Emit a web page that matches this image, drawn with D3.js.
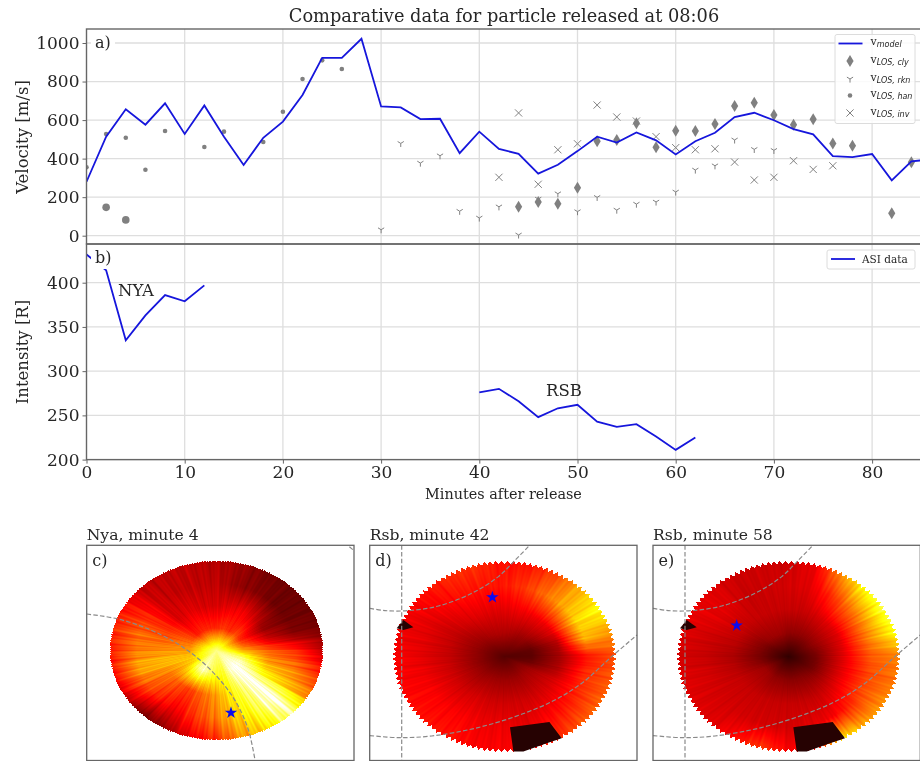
<!DOCTYPE html>
<html><head><meta charset="utf-8">
<script src="https://cdn.jsdelivr.net/npm/d3@7"></script>
<style>
html,body{margin:0;padding:0;background:#fff;overflow:hidden;width:920px;height:761px}
#wrap{position:relative;width:920px;height:761px;overflow:hidden}
canvas,svg{position:absolute;left:0;top:0}
canvas{filter:blur(0.6px)}
text{font-family:"DejaVu Serif",serif;fill:#262626}
</style></head><body><div id="wrap"><canvas id="heat" width="920" height="761"></canvas><svg id="chart" width="920" height="761"></svg></div>
<script>
// ---------- panel a ----------
const modelMinutes = [0,2,4,6,8,10,12,14,16,18,20,22,24,26,28,30,32,34,36,38,40,42,44,46,48,50,52,54,56,58,60,62,64,66,68,70,72,74,76,78,80,82,84,86];
const modelVelocity = [280,514,656,576,687,528,676,513,367,508,592,730,923,923,1022,671,666,605,607,428,540,450,425,322,368,439,514,483,536,495,422,490,534,616,638,599,553,526,413,408,424,287,386,396];
const hanMinutes = [0,2,4,6,8,12,14,18,20,22,24,26];
const hanVelocity = [355,528,508,342,543,460,540,486,643,813,910,865];
const hanBigMinutes = [2,4];
const hanBigVelocity = [147,82];
const rknMinutes = [30,32,34,36,38,40,42,44,46,48,50,52,54,56,58,60,62,64,66,68,70];
const rknVelocity = [31,479,377,415,127,92,150,4,190,218,125,199,133,164,175,227,341,363,497,448,443];
const clyMinutes = [44,46,48,50,52,54,56,58,60,62,64,66,68,70,72,74,76,78,82,84];
const clyVelocity = [150,175,166,249,490,497,583,459,545,543,580,673,690,626,576,604,479,467,116,381];
const invMinutes = [42,44,46,48,50,52,54,56,58,60,62,64,66,68,70,72,74,76];
const invVelocity = [303,637,267,446,477,678,616,595,514,457,446,451,382,289,303,389,344,363];
// ---------- panel b ----------
const nyaMinutes = [0,2,4,6,8,10,12];
const nyaIntensity = [432,414,335,363,386,379,397];
const rsbMinutes = [40,42,44,46,48,50,52,54,56,58,60,62];
const rsbIntensity = [276,280,266,248,258,262,243,237,240,226,211,225];
// ---------- ticks and text ----------
const xTicks = [0,10,20,30,40,50,60,70,80];
const velocityTicks = [0,200,400,600,800,1000];
const intensityTicks = [200,250,300,350,400];
const titleText = "Comparative data for particle released at 08:06";
// ---------- all-sky images: intensity by sector (15 deg steps, clockwise from east) and radius ----------
const ringRadii = [0,.25,.5,.75,1];
const nyaSky = [[.88,.62,.5,.42,.28],[.88,.82,.6,.55,.42],[.88,.95,.75,.65,.55],[.88,1,1,1,.9],[.88,.95,.85,.8,.7],[.88,.78,.72,.68,.6],[.88,.78,.6,.55,.42],[.88,.85,.52,.45,.33],[.88,.95,.45,.35,.22],[.88,.85,.5,.4,.18],[.88,.68,.55,.5,.3],[.88,.66,.65,.62,.38],[.88,.6,.58,.55,.4],[.88,.55,.5,.52,.42],[.88,.48,.42,.42,.38],[.88,.4,.31,.3,.28],[.88,.42,.33,.28,.28],[.88,.42,.31,.28,.28],[.88,.42,.31,.28,.26],[.88,.45,.33,.22,.23],[.88,.42,.35,.2,.18],[.88,.48,.3,.17,.17],[.88,.42,.22,.17,.17],[.88,.5,.3,.2,.18]];
const rsb42Sky = [[.16,.17,.28,.45,.55],[.16,.2,.3,.5,.58],[.16,.27,.36,.48,.6],[.16,.28,.36,.45,.58],[.16,.27,.35,.42,.5],[.16,.27,.35,.38,.42],[.16,.27,.35,.4,.42],[.16,.27,.35,.4,.42],[.16,.27,.36,.42,.45],[.16,.26,.35,.42,.45],[.16,.26,.35,.42,.44],[.16,.25,.34,.4,.42],[.16,.25,.33,.38,.42],[.16,.25,.33,.38,.4],[.16,.26,.33,.38,.42],[.16,.27,.36,.42,.45],[.16,.29,.38,.45,.5],[.16,.3,.38,.45,.5],[.16,.3,.38,.46,.44],[.16,.29,.4,.52,.45],[.16,.27,.4,.62,.55],[.16,.26,.4,.72,.74],[.16,.22,.38,.8,.88],[.16,.18,.3,.74,.68]];
const rsb58Sky = [[.1,.2,.36,.55,.62],[.1,.2,.36,.52,.6],[.1,.2,.36,.52,.65],[.1,.22,.34,.45,.68],[.1,.23,.32,.38,.8],[.1,.23,.32,.36,.42],[.1,.23,.32,.34,.4],[.1,.24,.32,.34,.5],[.1,.24,.32,.34,.42],[.1,.26,.32,.34,.36],[.1,.26,.32,.34,.36],[.1,.22,.3,.34,.36],[.1,.2,.28,.32,.34],[.1,.21,.3,.33,.36],[.1,.22,.32,.36,.38],[.1,.25,.32,.36,.36],[.1,.26,.32,.32,.33],[.1,.26,.32,.33,.33],[.1,.24,.32,.34,.33],[.1,.24,.32,.36,.38],[.1,.24,.34,.46,.66],[.1,.24,.36,.58,.85],[.1,.24,.36,.62,.9],[.1,.22,.36,.62,.85]];
const nyaArc = [[0,68.7],[30,73.4],[60,83],[90,98],[113.3,114.7],[133.3,134.7],[150,158],[161.7,184.7],[168.3,214.7]];
const nyaCornerArc = [[262.7,1.4],[267.3,5.4]];
const rsbArcUpper = [[0,63],[15.3,65.3],[38.7,65.3],[68.7,60.7],[102,48],[128.7,31.3],[145.3,15],[159.3,.7]];
const rsbArcLower = [[0,190.3],[28.7,192.3],[62,190.7],[105.3,183],[145.3,171.3],[182,156.3],[212,138],[242,111.3],[267.3,89.7]];
const rsbMeridian = [[32,0],[32,215]];
const rsbPatchBottom = [[140.3,182],[179.7,176.7],[192,193],[177,198],[153.7,206.3],[143.7,206.3]];
const rsbPatchLeft = [[27,83],[33.7,74.7],[43.7,82],[33.7,84.7]];

const gray = "#808080", blue = "#1616dc", gridColor = "#dedede", spine = "#666";
const svg = d3.select("#chart");
const x = d3.scaleLinear().domain([0,85]).range([86.5,921.2]);
const yA = d3.scaleLinear().domain([0,1000]).range([235.7,43]);
const yB = d3.scaleLinear().domain([200,400]).range([459.6,282.7]);
const A = {top:29,bottom:244}, B = {top:244,bottom:459.6};
const defs = svg.append("defs");
[["clipA",A],["clipB",B]].forEach(([id,p])=>{
  defs.append("clipPath").attr("id",id).append("rect").attr("x",x.range()[0]).attr("y",p.top).attr("width",x.range()[1]-x.range()[0]).attr("height",p.bottom-p.top);
});

function grid(p,yS,ticks){
  const g = svg.append("g");
  g.selectAll("line.v").data(xTicks.slice(1)).join("line").attr("x1",x).attr("x2",x).attr("y1",p.top).attr("y2",p.bottom).attr("stroke",gridColor).attr("stroke-width",1.3);
  g.selectAll("line.h").data(ticks).join("line").attr("x1",x(0)).attr("x2",x.range()[1]).attr("y1",yS).attr("y2",yS).attr("stroke",gridColor).attr("stroke-width",1.3);
}
grid(A,yA,velocityTicks);
grid(B,yB,intensityTicks);

const paths = {
  tri:"M0,0L0,3.6M0,0L-3.1,-1.9M0,0L3.1,-1.9",
  cross:"M-3.6,-3.6L3.6,3.6M-3.6,3.6L3.6,-3.6",
  diamond:"M0,-6L3.6,0L0,6L-3.6,0Z"
};
function drawLine(g,xs,ys,yS,w){
  const l = d3.line().x((d,i)=>x(xs[i])).y((d,i)=>yS(ys[i]));
  g.append("path").attr("d",l(xs)).attr("fill","none").attr("stroke",blue).attr("stroke-width",w||1.8).attr("stroke-linejoin","miter");
}
const gA = svg.append("g").attr("clip-path","url(#clipA)");
gA.selectAll("path.d").data(clyMinutes).join("path").attr("transform",(d,i)=>`translate(${x(d)},${yA(clyVelocity[i])})`).attr("d",paths.diamond).attr("fill",gray);
gA.selectAll("path.r").data(rknMinutes).join("path").attr("transform",(d,i)=>`translate(${x(d)},${yA(rknVelocity[i])})`).attr("d",paths.tri).attr("fill","none").attr("stroke",gray).attr("stroke-width",1);
gA.selectAll("circle.h").data(hanMinutes).join("circle").attr("cx",x).attr("cy",(d,i)=>yA(hanVelocity[i])).attr("r",2.3).attr("fill",gray);
gA.selectAll("circle.b").data(hanBigMinutes).join("circle").attr("cx",x).attr("cy",(d,i)=>yA(hanBigVelocity[i])).attr("r",3.8).attr("fill",gray);
gA.selectAll("path.i").data(invMinutes).join("path").attr("transform",(d,i)=>`translate(${x(d)},${yA(invVelocity[i])})`).attr("d",paths.cross).attr("fill","none").attr("stroke",gray).attr("stroke-width",1);
drawLine(gA,modelMinutes,modelVelocity,yA);

const gB = svg.append("g").attr("clip-path","url(#clipB)");
drawLine(gB,nyaMinutes,nyaIntensity,yB);
drawLine(gB,rsbMinutes,rsbIntensity,yB);

// spines and axes
function frame(l,t,r,b){
  svg.append("rect").attr("x",l).attr("y",t).attr("width",r-l).attr("height",b-t).attr("fill","none").attr("stroke",spine).attr("stroke-width",1.4);
}
frame(x(0),A.top,x.range()[1],A.bottom);
frame(x(0),B.top,x.range()[1],B.bottom);
function styleAxis(g,size){
  g.select(".domain").remove();
  g.selectAll(".tick line").attr("stroke",spine).attr("stroke-width",1);
  g.selectAll(".tick text").style("font-family","'DejaVu Serif',serif").style("font-size",size+"px").attr("fill","#262626");
}
const yAxisA = d3.axisLeft(yA).tickValues(velocityTicks).tickSize(4).tickPadding(3).tickFormat(d3.format("d"));
const yAxisB = d3.axisLeft(yB).tickValues(intensityTicks).tickSize(4).tickPadding(3).tickFormat(d3.format("d"));
const xAxisB = d3.axisBottom(x).tickValues(xTicks).tickSize(4).tickPadding(2).tickFormat(d3.format("d"));
svg.append("g").attr("transform",`translate(${x(0)},0)`).call(yAxisA).call(g=>styleAxis(g,17));
svg.append("g").attr("transform",`translate(${x(0)},0)`).call(yAxisB).call(g=>styleAxis(g,17));
svg.append("g").attr("transform",`translate(0,${B.bottom})`).call(xAxisB).call(g=>styleAxis(g,17));

function text(str,px,py,size,anchor,rot){
  const t = svg.append("text").attr("x",px).attr("y",py).style("font-size",size+"px").attr("text-anchor",anchor||"start").text(str);
  if(rot) t.attr("transform",`rotate(${rot},${px},${py})`);
  return t;
}
text(titleText,504,22,17.8,"middle");
text("Velocity [m/s]",28,137,16.5,"middle",-90);
text("Intensity [R]",28,352,16.5,"middle",-90);
text("Minutes after release",503.5,499,14.4,"middle");

// panel labels on white boxes
function boxed(str,px,py,bx,by,bw,bh){
  svg.append("rect").attr("x",bx).attr("y",by).attr("width",bw).attr("height",bh).attr("fill","#fff");
  text(str,px,py,16);
}
boxed("a)",95,48,91,33,24,20);
boxed("b)",95,263,91,247,22,22);
text("NYA",118,296,16.5);
text("RSB",546,396,16.5);

// legends
function legendBox(l,t,w,h){
  svg.append("rect").attr("x",l).attr("y",t).attr("width",w).attr("height",h).attr("rx",2).attr("fill","#fff").attr("fill-opacity",.85).attr("stroke","#dcdcdc").attr("stroke-width",1);
}
legendBox(835,34.5,80,89);
const legendRows = ["model","LOS, cly","LOS, rkn","LOS, han","LOS, inv"];
const legendYs = [43.5,61,79,95.5,113];
legendRows.forEach((sub,i)=>{
  const yy = legendYs[i];
  if(i===0) svg.append("line").attr("x1",838.5).attr("x2",862.5).attr("y1",yy).attr("y2",yy).attr("stroke",blue).attr("stroke-width",1.8);
  if(i===1) svg.append("path").attr("transform",`translate(850,${yy})`).attr("d",paths.diamond).attr("fill",gray);
  if(i===2) svg.append("path").attr("transform",`translate(850,${yy})`).attr("d",paths.tri).attr("fill","none").attr("stroke",gray);
  if(i===3) svg.append("circle").attr("cx",850).attr("cy",yy).attr("r",2.3).attr("fill",gray);
  if(i===4) svg.append("path").attr("transform",`translate(850,${yy})`).attr("d",paths.cross).attr("fill","none").attr("stroke",gray);
  const t = svg.append("text").attr("x",870.5).attr("y",yy+1.5).style("font-size","11px");
  t.append("tspan").text("v");
  t.append("tspan").attr("dy",2.2).style("font-family","'DejaVu Sans',sans-serif").style("font-style","italic").style("font-size","8px").text(sub);
});
legendBox(827,250,88,19);
svg.append("line").attr("x1",831).attr("x2",855).attr("y1",259).attr("y2",259).attr("stroke",blue).attr("stroke-width",1.8);
text("ASI data",862,263,10.5);

// ---------- all-sky panels ----------
const hot = d3.scaleLinear().domain([0,.08,.365,.746,1]).range(["#0a0000","#2a0000","#ff0000","#ffff00","#ffffff"]).clamp(true);
const panelW = 267.3, panelH = 215.2, panelTop = 545.3;
const skyPanels = [
  {sky:nyaSky,gain:1,left:86.7,title:"Nya, minute 4",tag:"c)",cx:129.3,cy:104.7,rx:107,ry:90,teeth:260,tooth:.012,streak:.04,arcs:[nyaArc,nyaCornerArc],patches:[],star:[144.3,167.4]},
  {sky:rsb42Sky,gain:.86,left:369.7,title:"Rsb, minute 42",tag:"d)",cx:134.3,cy:110.7,rx:112,ry:96,teeth:120,tooth:.035,streak:.02,arcs:[rsbArcUpper,rsbArcLower,rsbMeridian],patches:[rsbPatchBottom,rsbPatchLeft],star:[122.7,52]},
  {sky:rsb58Sky,gain:.9,left:653,title:"Rsb, minute 58",tag:"e)",cx:135,cy:110.7,rx:112,ry:96,teeth:120,tooth:.035,streak:.018,arcs:[rsbArcUpper,rsbArcLower,rsbMeridian],patches:[rsbPatchBottom,rsbPatchLeft],star:[83.7,80.3]}
];
const ctx = document.getElementById("heat").getContext("2d");
const img = ctx.createImageData(920,761);
function sample(sky,ang,r){
  const n = sky.length, a = ang/(2*Math.PI)*n, i0 = Math.floor(a)%n, i1 = (i0+1)%n, fa = a-Math.floor(a);
  const rr = Math.min(r,.9999)*(ringRadii.length-1), j0 = Math.floor(rr), fr = rr-j0;
  const lerp = (p,q,t)=>p+(q-p)*t;
  return lerp(lerp(sky[i0][j0],sky[i1][j0],fa),lerp(sky[i0][j0+1],sky[i1][j0+1],fa),fr);
}
skyPanels.forEach(p=>{
  const px = d3.scaleLinear().domain([0,panelW]).range([p.left,p.left+panelW]);
  const py = d3.scaleLinear().domain([0,panelH]).range([panelTop,panelTop+panelH]);
  const cx = px(p.cx), cy = py(p.cy);
  for(let Y=Math.floor(cy-p.ry);Y<=cy+p.ry;Y++){
    for(let X=Math.floor(cx-p.rx);X<=cx+p.rx;X++){
      if(X<0||X>=920||Y<0||Y>=761) continue;
      const u=(X-cx)/p.rx, v=(Y-cy)/p.ry, r=Math.hypot(u,v);
      let ang=Math.atan2(v,u); if(ang<0) ang+=2*Math.PI;
      const fr=(ang*p.teeth/(2*Math.PI))%1;
      const edge=1-p.tooth*Math.abs(fr*2-1);
      if(r>edge) continue;
      const tex = 1+p.streak*Math.min(1,r*1.3)*(Math.sin(43*ang)+.8*Math.sin(97*ang+1)+.6*Math.sin(171*ang+2)+.5*Math.sin(61*ang+r*3));
      const c = d3.rgb(hot(sample(p.sky,ang,r/edge)*tex*p.gain));
      const k=(Y*920+X)*4;
      img.data[k]=c.r; img.data[k+1]=c.g; img.data[k+2]=c.b; img.data[k+3]=255;
    }
  }
  const g = svg.append("g");
  g.selectAll("polygon").data(p.patches).join("polygon").attr("points",d=>d.map(q=>[px(q[0]),py(q[1])].join(",")).join(" ")).attr("fill","#260202");
  const l = d3.line().x(q=>px(q[0])).y(q=>py(q[1])).curve(d3.curveCatmullRom);
  g.selectAll("path.arc").data(p.arcs).join("path").attr("d",l).attr("fill","none").attr("stroke","#8a8a8a").attr("stroke-width",1.2).attr("stroke-dasharray","4.5 2.2");
  g.append("path").attr("d",d3.symbol(d3.symbolStar,48)()).attr("transform",`translate(${px(p.star[0])},${py(p.star[1])})`).attr("fill","#0a0aee");
  g.append("rect").attr("x",p.left).attr("y",panelTop).attr("width",panelW).attr("height",panelH).attr("fill","none").attr("stroke",spine).attr("stroke-width",1.3);
  text(p.title,p.left,540,15.6);
  text(p.tag,p.left+5.5,566,16);
});
ctx.putImageData(img,0,0);
</script></body></html>
